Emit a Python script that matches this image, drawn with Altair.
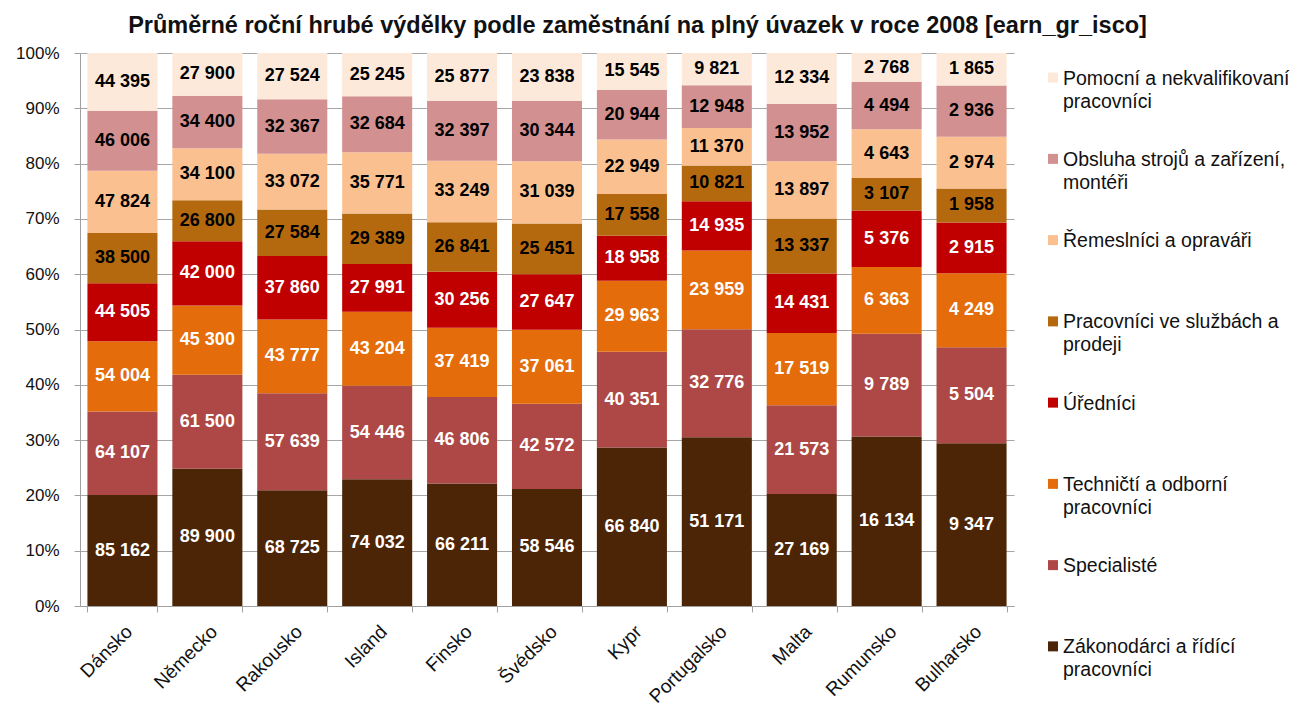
import altair as alt
import pandas as pd

countries = ["Dánsko", "Německo", "Rakousko", "Island", "Finsko", "Švédsko",
             "Kypr", "Portugalsko", "Malta", "Rumunsko", "Bulharsko"]

series = ["Zákonodárci a řídící pracovníci", "Specialisté", "Techničtí a odborní pracovníci",
          "Úředníci", "Pracovníci ve službách a prodeji", "Řemeslníci a opraváři",
          "Obsluha strojů a zařízení, montéři", "Pomocní a nekvalifikovaní pracovníci"]

legend_text = ["Zákonodárci a řídící\npracovníci", "Specialisté", "Techničtí a odborní\npracovníci",
               "Úředníci", "Pracovníci ve službách a\nprodeji", "Řemeslníci  a opraváři",
               "Obsluha strojů a zařízení,\nmontéři", "Pomocní a nekvalifikovaní\npracovníci"]

colors = ["#4b2506", "#ad4846", "#e46c0a", "#c00000", "#b5690f", "#fac090", "#d29090", "#fde9d9"]
dark_series = series[:4]

zakonodarci = [85162, 89900, 68725, 74032, 66211, 58546, 66840, 51171, 27169, 16134, 9347]
specialiste = [64107, 61500, 57639, 54446, 46806, 42572, 40351, 32776, 21573, 9789, 5504]
technicti = [54004, 45300, 43777, 43204, 37419, 37061, 29963, 23959, 17519, 6363, 4249]
urednici = [44505, 42000, 37860, 27991, 30256, 27647, 18958, 14935, 14431, 5376, 2915]
sluzby = [38500, 26800, 27584, 29389, 26841, 25451, 17558, 10821, 13337, 3107, 1958]
remeslnici = [47824, 34100, 33072, 35771, 33249, 31039, 22949, 11370, 13897, 4643, 2974]
obsluha = [46006, 34400, 32367, 32684, 32397, 30344, 20944, 12948, 13952, 4494, 2936]
pomocni = [44395, 27900, 27524, 25245, 25877, 23838, 15545, 9821, 12334, 2768, 1865]

values = [zakonodarci, specialiste, technicti, urednici, sluzby, remeslnici, obsluha, pomocni]

rows = []
for si, (s, vals) in enumerate(zip(series, values)):
    for c, v in zip(countries, vals):
        rows.append({"country": c, "series": s, "order": si, "value": v,
                     "label": f"{v:,}".replace(",", " ")})
df = pd.DataFrame(rows)

FONT = "Liberation Sans"

base = alt.Chart(df).transform_stack(
    stack="value", as_=["y0", "y1"], groupby=["country"],
    sort=[alt.SortField("order", order="ascending")], offset="normalize"
).transform_calculate(mid="(datum.y0 + datum.y1) / 2")

x_enc = alt.X("country:N", sort=countries, title=None,
              scale=alt.Scale(paddingInner=0.175, paddingOuter=0.0875),
              axis=alt.Axis(labelAngle=-45, labelFontSize=19, labelFont=FONT, labelColor="#111",
                            tickBand="extent", domainColor="#a0a0a0", tickColor="#a0a0a0",
                            tickSize=6, labelPadding=10, grid=False))

bars = base.mark_bar().encode(
    x=x_enc,
    y=alt.Y("y0:Q", title=None, scale=alt.Scale(domain=[0, 1]),
            axis=alt.Axis(format=".0%", values=[i / 10 for i in range(11)], labelFontSize=17,
                          labelFont=FONT, labelColor="#111", tickSize=6, labelPadding=15,
                          domainColor="#a0a0a0", tickColor="#a0a0a0", gridColor="#a6a6a6",
                          gridWidth=1)),
    y2="y1:Q",
    color=alt.Color("series:N", scale=alt.Scale(domain=series, range=colors), legend=None),
)

texts = base.mark_text(fontSize=18, fontWeight="bold", font=FONT, baseline="middle").encode(
    x=alt.X("country:N", sort=countries),
    y=alt.Y("mid:Q"),
    text="label:N",
    color=alt.condition(alt.FieldOneOfPredicate(field="series", oneOf=dark_series),
                        alt.value("white"), alt.value("black")),
)

main = alt.layer(bars, texts).properties(width=934, height=553)

leg_df = pd.DataFrame({"series": series, "text": legend_text})
leg_order = series[::-1]

leg_sq = alt.Chart(leg_df).mark_square(size=100, opacity=1, yOffset=-16).encode(
    x=alt.value(19),
    y=alt.Y("series:N", sort=leg_order, axis=None),
    color=alt.Color("series:N", scale=alt.Scale(domain=series, range=colors), legend=None),
)
leg_tx = alt.Chart(leg_df).mark_text(align="left", baseline="alphabetic", dy=-9, lineBreak="\n",
                                     fontSize=19.5, font=FONT, lineHeight=23, color="#111").encode(
    x=alt.value(29),
    y=alt.Y("series:N", sort=leg_order, axis=None),
    text="text:N",
)
legend = alt.layer(leg_sq, leg_tx).properties(width=250, height=650)

chart = alt.hconcat(main, legend, spacing=20).properties(
    title=alt.TitleParams("Průměrné roční hrubé výdělky podle zaměstnání na plný úvazek v roce 2008 [earn_gr_isco]",
                          fontSize=23.5, font=FONT, fontWeight="bold", anchor="middle", color="#111",
                          dx=-15, offset=7),
    padding={"left": 7, "top": 5, "right": 5, "bottom": 5}
).configure_view(stroke=None)

chart.save("out.html", embed_options={"renderer": "svg", "actions": False})
